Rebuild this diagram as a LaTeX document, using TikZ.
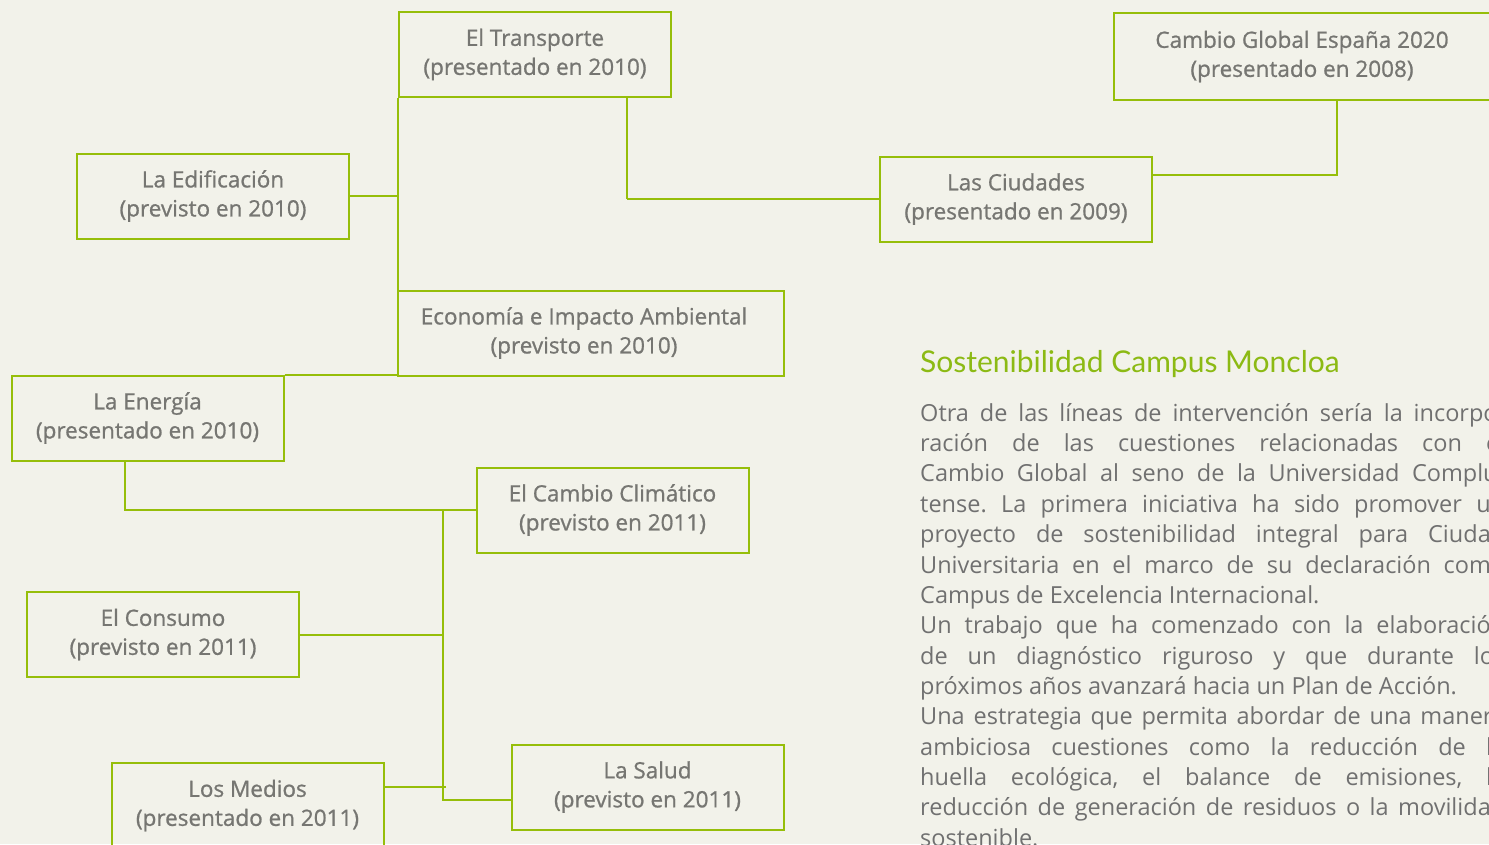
\documentclass[tikz,border=0pt]{standalone}
\usepackage{fontspec}
\setmainfont{Open Sans}
\newfontfamily\titlefont{Lato}
\newfontfamily\boxfont[FakeBold=0.9]{Open Sans}
\definecolor{bg}{RGB}{242,242,234}
\definecolor{lgreen}{RGB}{150,190,10}
\definecolor{tgreen}{RGB}{140,186,20}
\definecolor{boxgrey}{RGB}{118,118,114}
\definecolor{bodygrey}{RGB}{112,112,112}
\frenchspacing
\begin{document}
\begin{tikzpicture}[x=1pt,y=-1pt,
  box/.style={draw=lgreen, line width=2pt, minimum width=272pt, minimum height=85pt,
    inner sep=0pt, align=center, text=boxgrey, font=\boxfont\fontsize{22.5}{29}\selectfont,
    execute at begin node={\rule{0pt}{21.5pt}}},
  conn/.style={draw=lgreen, line width=2pt},
  thinconn/.style={draw=lgreen, line width=1.2pt}]
\useasboundingbox (0,0) rectangle (1489,844);
\fill[bg] (0,0) rectangle (1489,844);
\clip (0,0) rectangle (1489,844);
% boxes
\node[box] (trans) at (535,54.5) {El Transporte\\(presentado en 2010)};
\node[box] (edif) at (213,196) {La Edificación\\(previsto en 2010)};
\node[box, minimum width=386pt] (econ) at (591,333) {Economía e Impacto Ambiental\hspace*{14pt}\\(previsto en 2010)\hspace*{14pt}};
\node[box] (ener) at (147.5,418) {La Energía\\(presentado en 2010)};
\node[box] (clim) at (612.5,510) {El Cambio Climático\\(previsto en 2011)};
\node[box] (cons) at (163,634.5) {El Consumo\\(previsto en 2011)};
\node[box] (med) at (247.5,805.5) {Los Medios\\(presentado en 2011)};
\node[box] (salud) at (647.5,787) {La Salud\\(previsto en 2011)};
\node[box] (ciud) at (1016,199) {Las Ciudades\\(presentado en 2009)};
\node[box, minimum width=376pt, minimum height=87pt] (glob) at (1302,56.5) {Cambio Global España 2020\\(presentado en 2008)};
% connectors
\coordinate (tx) at (443,0);
\draw[conn] (trans.south west) -- (trans.south west |- econ.north);
\draw[thinconn] (edif.east) -- (edif.east -| trans.south west);
\draw[conn] (ener.north east) -- (ener.north east -| econ.west);
\draw[conn] ([xshift=92pt]trans.south) -- ([xshift=92pt]trans.south |- ciud.west);
\draw[thinconn] ([xshift=92pt]trans.south |- ciud.west) -- (ciud.west);
\draw[thinconn] ([yshift=24pt]ciud.east) -| ([xshift=35pt]glob.south);
\draw[conn] ([xshift=-22.5pt]ener.south) |- (clim.west);
\draw[conn] (clim.west -| tx) -- ([yshift=-13pt]salud.west -| tx) -- ([yshift=-13pt]salud.west);
\draw[conn] (cons.east) -- (cons.east -| tx);
\draw[conn] ([yshift=18.5pt]med.east) -- ([yshift=18.5pt,xshift=3pt]med.east -| tx);
% text
\node[anchor=base west, inner sep=0pt, text=tgreen, font=\titlefont\fontsize{30}{36}\selectfont] (title) at (920,372) {Sostenibilidad Campus Moncloa};
\node[anchor=north west, inner sep=0pt, text width=585pt, align=justify, text=bodygrey,
  font=\fontsize{23.5}{30.36}\selectfont] (body) at (920,403) {%
Otra de las líneas de intervención sería la incorpo-\linebreak{}ración de las cuestiones relacionadas con el\linebreak{} Cambio Global al seno de la Universidad Complu-\linebreak{}tense. La primera iniciativa ha sido promover un\linebreak{} proyecto de sostenibilidad integral para Ciudad\linebreak{} Universitaria en el marco de su declaración como\linebreak{} Campus de Excelencia Internacional.\par
Un trabajo que ha comenzado con la elaboración\linebreak{} de un diagnóstico riguroso y que durante los\linebreak{} próximos años avanzará hacia un Plan de Acción.\par
Una estrategia que permita abordar de una manera\linebreak{} ambiciosa cuestiones como la reducción de la\linebreak{} huella ecológica, el balance de emisiones, la\linebreak{} reducción de generación de residuos o la movilidad\linebreak{} sostenible.};
\end{tikzpicture}
\end{document}
